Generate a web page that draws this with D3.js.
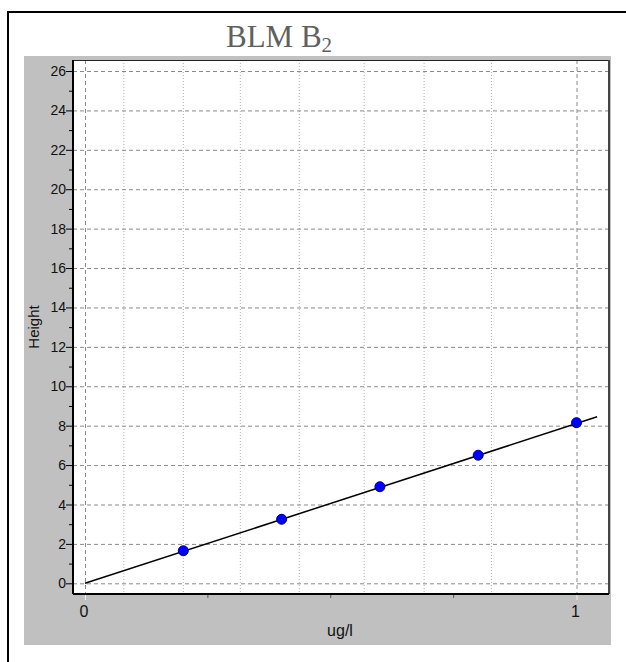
<!DOCTYPE html>
<html>
<head>
<meta charset="utf-8">
<script src="https://cdn.jsdelivr.net/npm/d3@7"></script>
<style>
  body { margin: 0; background: #fff; }
  svg { display: block; }
</style>
</head>
<body>
<div id="target"></div>
<script>
let width = 626,
  height = 662;

// calibration points
let concentrations = [0.2, 0.4, 0.6, 0.8, 1.0];
let heights = [1.65, 3.25, 4.9, 6.5, 8.15];

// regression line end points
let fitX = [0, 1.042];
let fitY = [0, 8.45];

let yTicks = d3.range(0, 27, 2);
let yMinorTicks = d3.range(1, 27, 2);
let xTickLabels = [0, 1];
let xMinorTicks = [0.25, 0.5, 0.75];
// dotted vertical grid lines (not evenly spaced in the original)
let xDottedGrid = [0.079, 0.2, 0.316, 0.436, 0.568, 0.69, 0.827];

let plot = { left: 73, top: 60, right: 609, bottom: 594 };

let x = d3.scaleLinear()
  .domain([0, 1])
  .range([85, 576.5]);

let y = d3.scaleLinear()
  .domain([0, 26])
  .range([583.3, 71]);

let svg = d3.select("#target").append("svg")
  .attr("width", width)
  .attr("height", height);

// outer frame (runs off the right and bottom edges)
svg.append("path")
  .attr("d", "M8," + height + "V12H" + width)
  .attr("fill", "none")
  .attr("stroke", "#000")
  .attr("stroke-width", 2);

// title
let title = svg.append("text")
  .attr("x", 226)
  .attr("y", 47)
  .style("font-family", "'Liberation Serif', 'Times New Roman', serif")
  .style("font-size", "31px")
  .style("fill", "#606060");
title.append("tspan").text("BLM B");
title.append("tspan")
  .attr("dy", 5)
  .style("font-size", "21px")
  .text("2");

// grey chart panel
svg.append("rect")
  .attr("x", 24)
  .attr("y", 56)
  .attr("width", 587)
  .attr("height", 589)
  .attr("fill", "#c0c0c0");

// plot area
svg.append("rect")
  .attr("x", plot.left)
  .attr("y", plot.top)
  .attr("width", plot.right - plot.left)
  .attr("height", plot.bottom - plot.top)
  .attr("fill", "#fff");

let grid = svg.append("g");

grid.selectAll(".dot-grid")
  .data(xDottedGrid)
  .enter()
  .append("line")
  .attr("x1", (d) => x(d))
  .attr("x2", (d) => x(d))
  .attr("y1", plot.top)
  .attr("y2", plot.bottom)
  .attr("stroke", "#b0b0b0")
  .attr("stroke-dasharray", "1,2");

grid.selectAll(".h-grid")
  .data(yTicks)
  .enter()
  .append("line")
  .attr("x1", plot.left)
  .attr("x2", plot.right)
  .attr("y1", (d) => y(d) + 0.5)
  .attr("y2", (d) => y(d) + 0.5)
  .attr("stroke", "#8a8a8a")
  .attr("stroke-dasharray", "4,3");

grid.selectAll(".v-grid")
  .data(xTickLabels)
  .enter()
  .append("line")
  .attr("x1", (d) => x(d) + 0.5)
  .attr("x2", (d) => x(d) + 0.5)
  .attr("y1", plot.top)
  .attr("y2", plot.bottom)
  .attr("stroke", "#8a8a8a")
  .attr("stroke-dasharray", "4,3");

// plot border
svg.append("line")
  .attr("x1", plot.left).attr("x2", plot.right)
  .attr("y1", plot.top + 0.5).attr("y2", plot.top + 0.5)
  .attr("stroke", "#222");
svg.append("line")
  .attr("x1", plot.right).attr("x2", plot.right)
  .attr("y1", plot.top).attr("y2", plot.bottom)
  .attr("stroke", "#444")
  .attr("stroke-width", 2);

// y axis
let yAxis = svg.append("g")
  .attr("transform", "translate(" + plot.left + ",0)");

yAxis.selectAll(".minor")
  .data(yMinorTicks)
  .enter()
  .append("line")
  .attr("x1", -4)
  .attr("x2", 0)
  .attr("y1", (d) => y(d) + 0.5)
  .attr("y2", (d) => y(d) + 0.5)
  .attr("stroke", "#000");

yAxis.selectAll(".major")
  .data(yTicks)
  .enter()
  .append("line")
  .attr("x1", -7)
  .attr("x2", 0)
  .attr("y1", (d) => y(d) + 0.5)
  .attr("y2", (d) => y(d) + 0.5)
  .attr("stroke", "#000");

yAxis.selectAll("text")
  .data(yTicks)
  .enter()
  .append("text")
  .attr("x", -7)
  .attr("y", (d) => y(d))
  .attr("dy", "0.36em")
  .attr("text-anchor", "end")
  .style("font-family", "Arial, 'Liberation Sans', sans-serif")
  .style("font-size", "14px")
  .style("fill", "#111")
  .text((d) => d);

yAxis.append("line")
  .attr("x1", 0).attr("x2", 0)
  .attr("y1", plot.top).attr("y2", plot.bottom)
  .attr("stroke", "#000")
  .attr("stroke-width", 2);

svg.append("text")
  .attr("transform", "translate(39," + ((plot.top + plot.bottom) / 2) + ") rotate(-90)")
  .attr("text-anchor", "middle")
  .style("font-family", "Arial, 'Liberation Sans', sans-serif")
  .style("font-size", "15px")
  .style("fill", "#111")
  .text("Height");

// x axis
let xAxis = svg.append("g")
  .attr("transform", "translate(0," + plot.bottom + ")");

xAxis.selectAll(".minor")
  .data(xMinorTicks)
  .enter()
  .append("line")
  .attr("x1", (d) => x(d))
  .attr("x2", (d) => x(d))
  .attr("y1", 0)
  .attr("y2", 4)
  .attr("stroke", "#555");

xAxis.selectAll(".major")
  .data(xTickLabels)
  .enter()
  .append("line")
  .attr("x1", (d) => x(d) + 0.5)
  .attr("x2", (d) => x(d) + 0.5)
  .attr("y1", 0)
  .attr("y2", 6)
  .attr("stroke", "#eee");

xAxis.selectAll("text")
  .data(xTickLabels)
  .enter()
  .append("text")
  .attr("x", (d) => x(d) - 1)
  .attr("y", 23)
  .attr("text-anchor", "middle")
  .style("font-family", "Arial, 'Liberation Sans', sans-serif")
  .style("font-size", "16px")
  .style("fill", "#111")
  .text((d) => d);

xAxis.append("line")
  .attr("x1", plot.left).attr("x2", plot.right)
  .attr("y1", 0).attr("y2", 0)
  .attr("stroke", "#000")
  .attr("stroke-width", 2);

svg.append("text")
  .attr("x", 340)
  .attr("y", 636)
  .attr("text-anchor", "middle")
  .style("font-family", "Arial, 'Liberation Sans', sans-serif")
  .style("font-size", "16px")
  .style("fill", "#111")
  .text("ug/l");

// fit line
let line = d3.line()
  .x((d) => x(d[0]))
  .y((d) => y(d[1]));

svg.append("path")
  .datum(d3.zip(fitX, fitY))
  .attr("d", line)
  .attr("fill", "none")
  .attr("stroke", "#000")
  .attr("stroke-width", 1.5);

// points
svg.selectAll(".pt")
  .data(d3.zip(concentrations, heights))
  .enter()
  .append("circle")
  .attr("cx", (d) => x(d[0]))
  .attr("cy", (d) => y(d[1]))
  .attr("r", 5)
  .attr("fill", "#0000ff")
  .attr("stroke", "#000070")
  .attr("stroke-width", 1);
</script>
</body>
</html>
